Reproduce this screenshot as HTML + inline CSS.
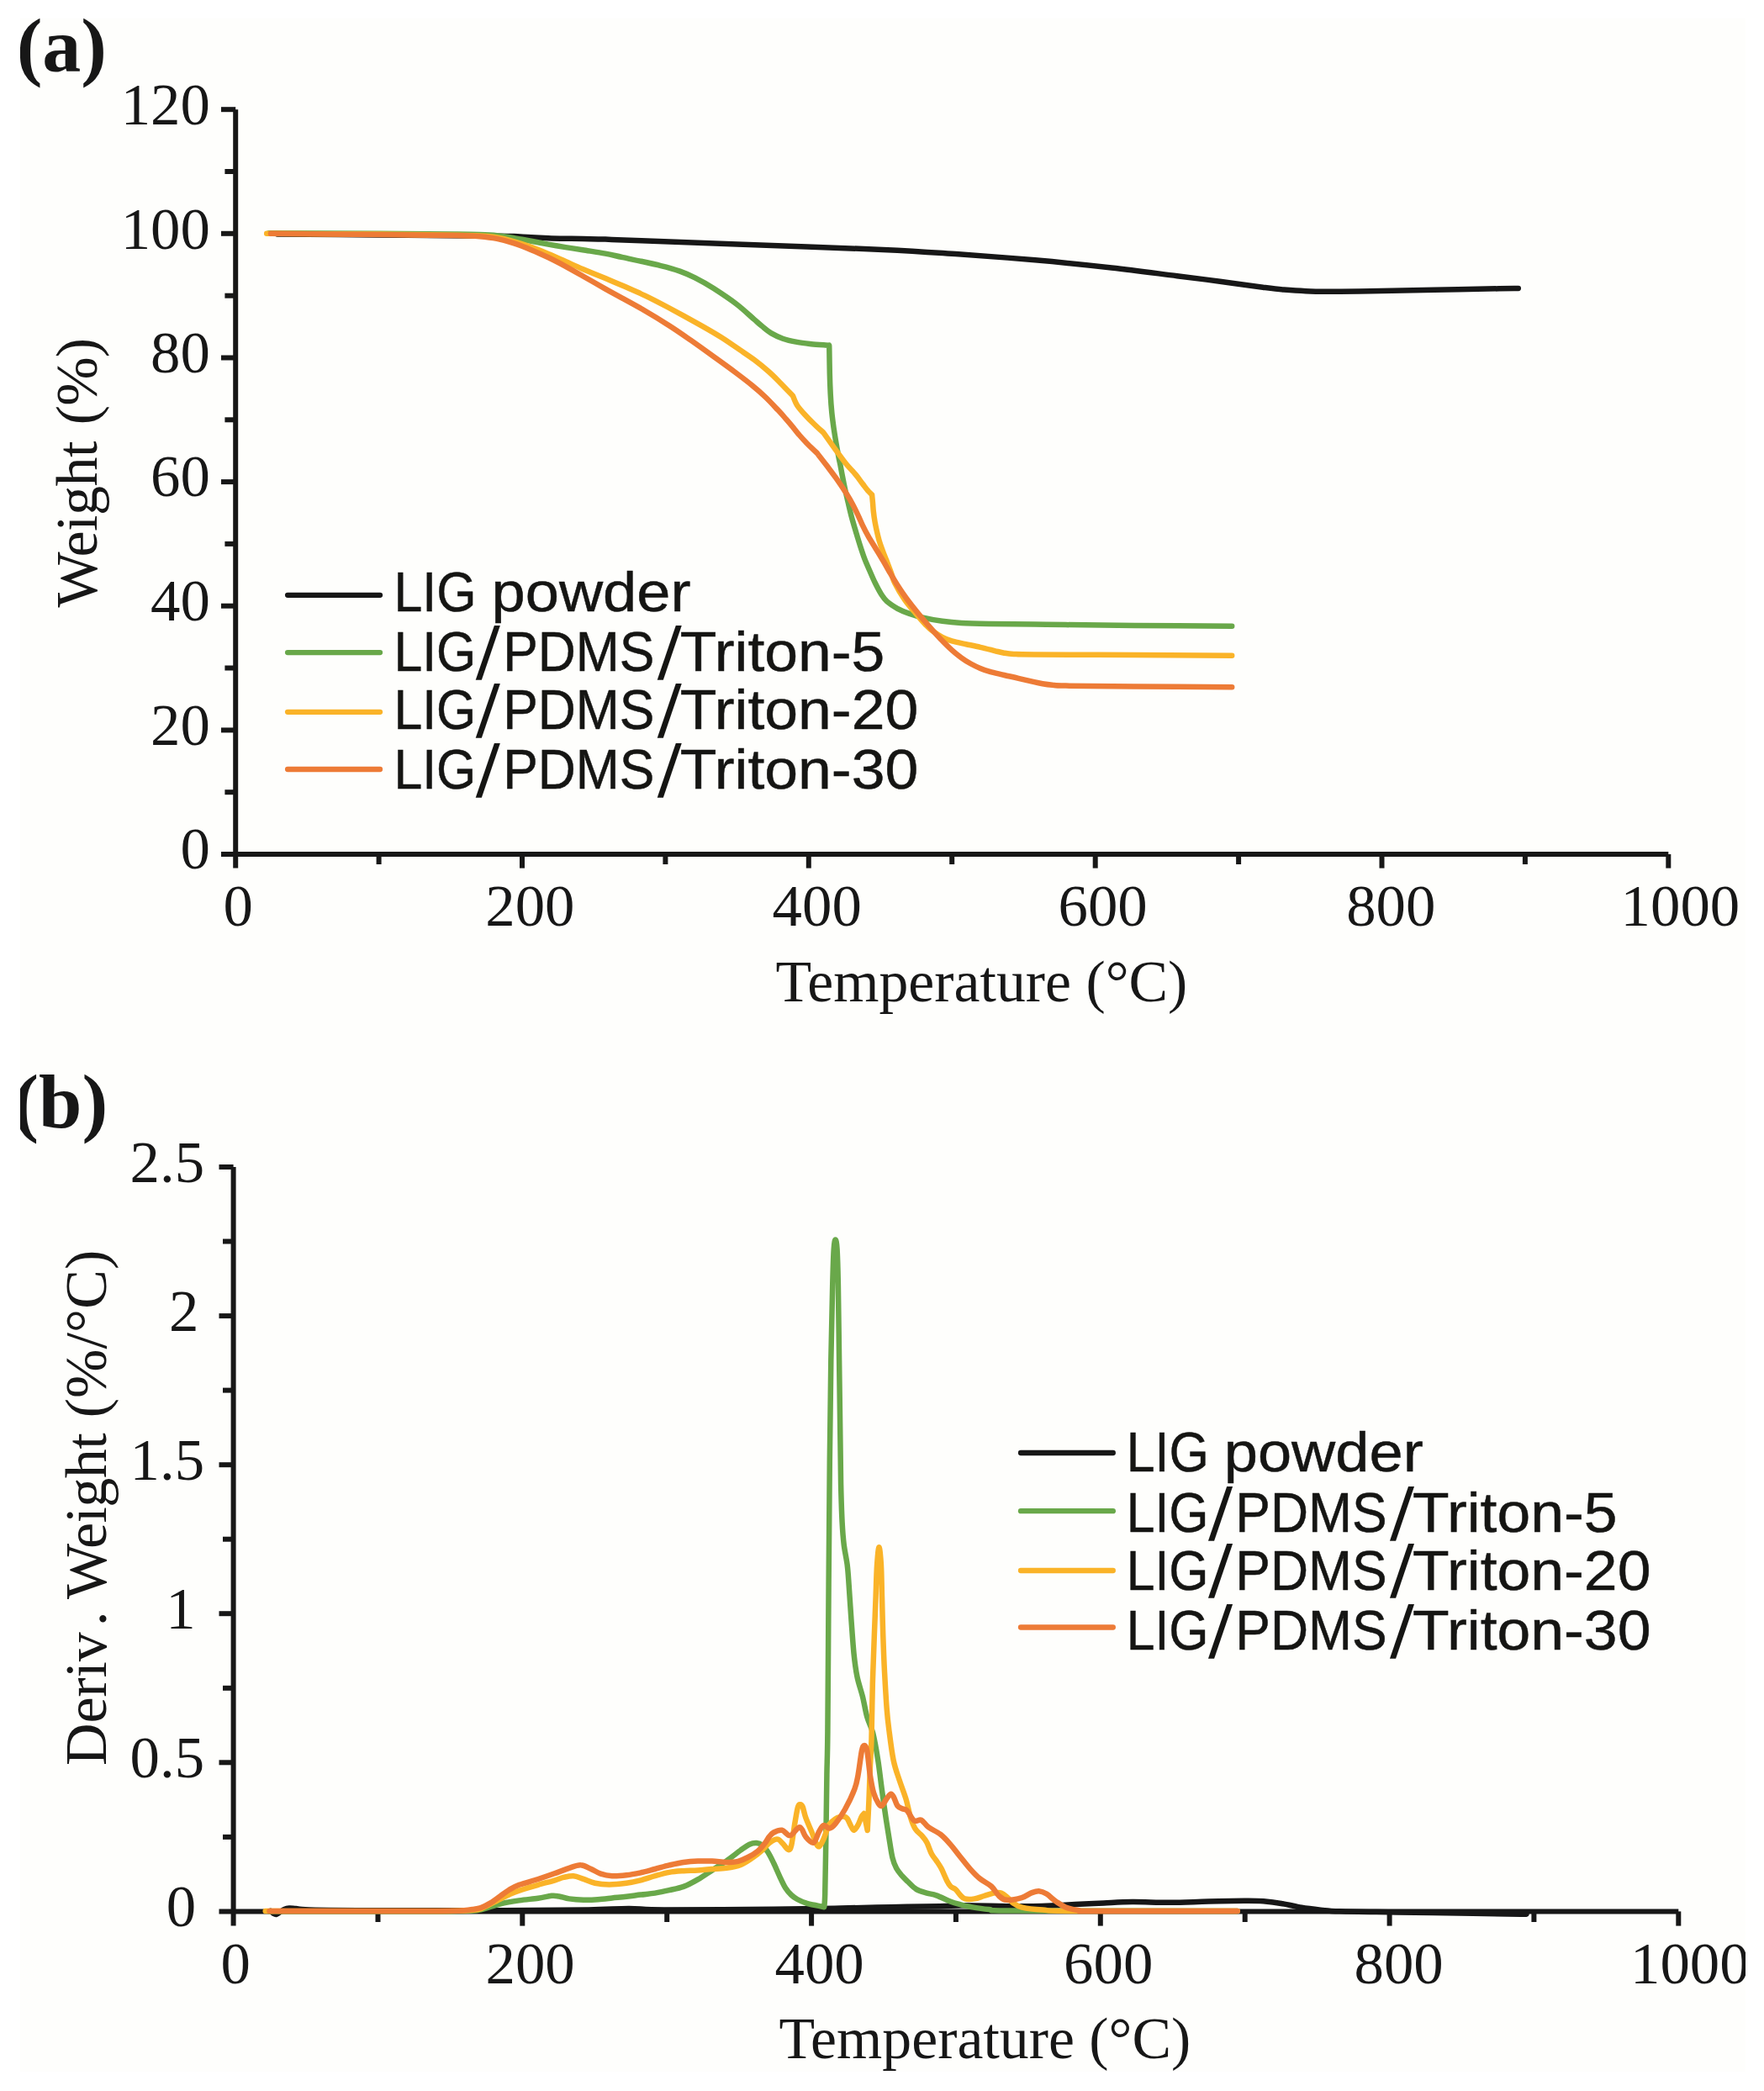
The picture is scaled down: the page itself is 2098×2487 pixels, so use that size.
<!DOCTYPE html>
<html lang="en"><head><meta charset="utf-8"><title>TGA and DTG curves</title>
<style>
html,body{margin:0;padding:0;background:#ffffff;}
body{width:2098px;height:2487px;overflow:hidden;position:relative;}
svg{position:absolute;left:0;top:0;display:block;}
text{white-space:pre;}
.lg{position:absolute;left:0;top:0;width:0;height:0;}
.lg span{position:absolute;left:0;top:0;display:block;white-space:pre;font:67.5px/1 'Liberation Sans',sans-serif;color:#151513;-webkit-text-stroke:0.5px #151513;transform-origin:0 0;}
.lg span.ns{-webkit-text-stroke:0;}
</style></head><body>
<svg width="2098" height="2487" viewBox="0 0 2098 2487">
<defs><clipPath id="page"><rect x="24" y="22" width="2052" height="2442"/></clipPath></defs>
<rect x="0" y="0" width="2098" height="2487" fill="#ffffff"/>
<rect x="24" y="22" width="2052" height="2442" fill="#fefefc"/>
<g clip-path="url(#page)">
<line x1="280.2" y1="130.2" x2="280.2" y2="1032.6" stroke="#171717" stroke-width="6.0"/>
<line x1="263.0" y1="1016.0" x2="1984.3" y2="1016.0" stroke="#171717" stroke-width="6.0"/>
<line x1="267.4" y1="942.2" x2="280.2" y2="942.2" stroke="#171717" stroke-width="6.0"/>
<line x1="263.0" y1="868.4" x2="280.2" y2="868.4" stroke="#171717" stroke-width="6.0"/>
<line x1="267.4" y1="794.5" x2="280.2" y2="794.5" stroke="#171717" stroke-width="6.0"/>
<line x1="263.0" y1="720.7" x2="280.2" y2="720.7" stroke="#171717" stroke-width="6.0"/>
<line x1="267.4" y1="646.9" x2="280.2" y2="646.9" stroke="#171717" stroke-width="6.0"/>
<line x1="263.0" y1="573.1" x2="280.2" y2="573.1" stroke="#171717" stroke-width="6.0"/>
<line x1="267.4" y1="499.3" x2="280.2" y2="499.3" stroke="#171717" stroke-width="6.0"/>
<line x1="263.0" y1="425.5" x2="280.2" y2="425.5" stroke="#171717" stroke-width="6.0"/>
<line x1="267.4" y1="351.7" x2="280.2" y2="351.7" stroke="#171717" stroke-width="6.0"/>
<line x1="263.0" y1="277.8" x2="280.2" y2="277.8" stroke="#171717" stroke-width="6.0"/>
<line x1="267.4" y1="204.0" x2="280.2" y2="204.0" stroke="#171717" stroke-width="6.0"/>
<line x1="263.0" y1="130.2" x2="280.2" y2="130.2" stroke="#171717" stroke-width="6.0"/>
<line x1="450.6" y1="1016.0" x2="450.6" y2="1028.0" stroke="#171717" stroke-width="6.0"/>
<line x1="621.0" y1="1016.0" x2="621.0" y2="1032.6" stroke="#171717" stroke-width="6.0"/>
<line x1="791.4" y1="1016.0" x2="791.4" y2="1028.0" stroke="#171717" stroke-width="6.0"/>
<line x1="961.8" y1="1016.0" x2="961.8" y2="1032.6" stroke="#171717" stroke-width="6.0"/>
<line x1="1132.2" y1="1016.0" x2="1132.2" y2="1028.0" stroke="#171717" stroke-width="6.0"/>
<line x1="1302.7" y1="1016.0" x2="1302.7" y2="1032.6" stroke="#171717" stroke-width="6.0"/>
<line x1="1473.1" y1="1016.0" x2="1473.1" y2="1028.0" stroke="#171717" stroke-width="6.0"/>
<line x1="1643.5" y1="1016.0" x2="1643.5" y2="1032.6" stroke="#171717" stroke-width="6.0"/>
<line x1="1813.9" y1="1016.0" x2="1813.9" y2="1028.0" stroke="#171717" stroke-width="6.0"/>
<line x1="1984.3" y1="1016.0" x2="1984.3" y2="1032.6" stroke="#171717" stroke-width="6.0"/>
<text transform="translate(143.70 148.00) scale(1.0120 1)" font-size="70.0" font-family="'Liberation Serif', serif" fill="#171717" >120</text>
<text transform="translate(143.70 295.70) scale(1.0120 1)" font-size="70.0" font-family="'Liberation Serif', serif" fill="#171717" >100</text>
<text transform="translate(179.12 442.70) scale(1.0120 1)" font-size="70.0" font-family="'Liberation Serif', serif" fill="#171717" >80</text>
<text transform="translate(179.12 590.20) scale(1.0120 1)" font-size="70.0" font-family="'Liberation Serif', serif" fill="#171717" >60</text>
<text transform="translate(179.12 737.70) scale(1.0120 1)" font-size="70.0" font-family="'Liberation Serif', serif" fill="#171717" >40</text>
<text transform="translate(179.12 885.50) scale(1.0120 1)" font-size="70.0" font-family="'Liberation Serif', serif" fill="#171717" >20</text>
<text transform="translate(214.54 1032.80) scale(1.0120 1)" font-size="70.0" font-family="'Liberation Serif', serif" fill="#171717" >0</text>
<text transform="translate(265.59 1100.80) scale(1.0120 1)" font-size="70.0" font-family="'Liberation Serif', serif" fill="#171717" >0</text>
<text transform="translate(577.29 1100.80) scale(1.0120 1)" font-size="70.0" font-family="'Liberation Serif', serif" fill="#171717" >200</text>
<text transform="translate(918.59 1100.80) scale(1.0120 1)" font-size="70.0" font-family="'Liberation Serif', serif" fill="#171717" >400</text>
<text transform="translate(1258.49 1100.80) scale(1.0120 1)" font-size="70.0" font-family="'Liberation Serif', serif" fill="#171717" >600</text>
<text transform="translate(1601.17 1100.80) scale(1.0120 1)" font-size="70.0" font-family="'Liberation Serif', serif" fill="#171717" >800</text>
<text transform="translate(1927.59 1100.80) scale(1.0120 1)" font-size="70.0" font-family="'Liberation Serif', serif" fill="#171717" >1000</text>
<text transform="translate(922.48 1191.30) scale(0.9969 1)" font-size="70.0" font-family="'Liberation Serif', serif" fill="#171717" >Temperature (°C)</text>
<text transform="translate(114.80 722.50) rotate(-90)" font-size="70" font-family="'Liberation Serif', serif" fill="#171717"><tspan x="0.00" letter-spacing="-0.496">Weight</tspan><tspan x="200.61" letter-spacing="-0.811"> (%)</tspan></text>
<text transform="translate(19.69 85.30) scale(1.0059 1)" font-size="91.5" font-family="'Liberation Serif', serif" font-weight="bold" fill="#171717" >(a)</text>
<path d="M330.0 278.5 C350.0 278.7 411.7 279.2 450.0 279.5 C488.3 279.8 536.7 280.3 560.0 280.5 C583.3 280.7 581.4 280.6 590.0 280.7 C598.6 280.8 604.4 280.8 611.4 281.1 C618.4 281.4 625.0 282.0 631.8 282.3 C638.6 282.7 645.4 283.0 652.2 283.2 C659.0 283.5 665.9 283.6 672.7 283.7 C679.5 283.8 685.1 283.9 693.0 284.0 C700.9 284.2 708.3 284.2 720.0 284.6 C731.7 285.0 736.8 285.3 763.0 286.2 C789.2 287.2 829.2 288.6 877.0 290.4 C924.8 292.2 1006.2 294.9 1050.0 296.9 C1093.8 298.9 1109.8 300.3 1140.0 302.3 C1170.2 304.4 1200.7 306.7 1231.0 309.3 C1261.3 312.0 1293.8 315.3 1322.0 318.4 C1350.2 321.6 1378.5 325.5 1400.0 328.2 C1421.5 330.9 1434.0 332.5 1451.0 334.7 C1468.0 337.0 1489.3 340.1 1502.0 341.7 C1514.7 343.3 1518.5 343.8 1527.0 344.6 C1535.5 345.3 1544.3 345.9 1553.0 346.2 C1561.7 346.6 1566.2 346.7 1579.0 346.7 C1591.8 346.8 1608.8 346.6 1630.0 346.3 C1651.2 346.0 1680.5 345.3 1706.0 344.8 C1731.5 344.3 1766.4 343.6 1783.0 343.3 C1799.6 343.0 1802.0 343.1 1805.8 343.0" fill="none" stroke="#171717" stroke-width="6.5" stroke-linecap="round" stroke-linejoin="round"/>
<path d="M320.0 277.3 C341.7 277.4 413.3 277.5 450.0 277.7 C486.7 277.9 520.0 278.2 540.0 278.5 C560.0 278.7 561.5 278.7 570.0 279.0 C578.5 279.3 584.1 279.5 591.0 280.2 C597.9 280.9 604.6 282.0 611.4 283.1 C618.2 284.2 625.0 285.5 631.8 286.7 C638.6 288.0 645.4 289.3 652.2 290.6 C659.0 291.8 665.9 293.0 672.7 294.1 C679.5 295.2 685.1 296.0 693.0 297.2 C700.9 298.5 712.0 300.1 720.0 301.6 C728.0 303.1 729.7 303.7 740.7 306.1 C751.7 308.5 774.7 313.3 786.0 316.1 C797.3 318.8 801.9 320.2 808.7 322.6 C815.5 325.0 819.9 327.0 826.6 330.4 C833.3 333.8 840.6 337.8 848.8 343.0 C857.0 348.3 868.0 355.5 876.0 361.7 C884.0 367.8 892.0 375.6 897.0 379.9 C902.0 384.3 902.7 385.1 906.1 387.8 C909.5 390.5 913.2 393.9 917.4 396.4 C921.5 398.8 925.9 400.9 931.0 402.7 C936.1 404.5 942.3 405.8 948.0 406.9 C953.7 408.0 958.7 408.5 965.0 409.2 C971.3 409.8 982.5 410.5 986.0 410.8  C986.0 411.3 986.2 408.5 986.3 414.0 C986.4 419.5 986.6 434.8 986.8 443.9 C987.0 453.0 987.3 460.6 987.7 468.6 C988.1 476.6 988.7 484.8 989.4 491.7 C990.1 498.5 990.9 504.0 991.7 509.9 C992.6 515.8 993.5 521.6 994.5 527.2 C995.5 532.9 996.7 539.7 997.5 543.9 C998.3 548.1 998.6 549.1 999.3 552.4 C999.9 555.7 1000.5 559.0 1001.4 563.7 C1002.3 568.4 1003.6 574.9 1004.8 580.6 C1006.0 586.3 1007.5 592.4 1008.8 598.1 C1010.1 603.7 1011.2 608.7 1012.7 614.3 C1014.2 620.0 1016.1 626.3 1017.8 632.0 C1019.5 637.7 1021.1 643.2 1022.9 648.7 C1024.7 654.3 1026.5 659.9 1028.6 665.4 C1030.7 670.8 1033.4 676.7 1035.5 681.5 C1037.6 686.4 1039.2 690.1 1041.3 694.3 C1043.4 698.5 1045.8 703.2 1048.1 706.7 C1050.4 710.2 1051.7 712.5 1054.9 715.4 C1058.1 718.2 1063.1 721.4 1067.4 723.8 C1071.8 726.2 1075.9 727.8 1081.0 729.6 C1086.1 731.4 1091.4 733.1 1098.0 734.6 C1104.6 736.2 1113.1 737.7 1120.7 738.7 C1128.3 739.8 1134.0 740.4 1143.4 740.9 C1152.9 741.5 1163.0 741.7 1177.4 742.0 C1191.8 742.3 1215.0 742.4 1230.0 742.6 C1245.0 742.8 1247.5 742.9 1267.5 743.1 C1287.5 743.3 1317.0 743.7 1350.0 743.9 C1383.0 744.2 1446.0 744.7 1465.2 744.8" fill="none" stroke="#69a84a" stroke-width="6.5" stroke-linecap="round" stroke-linejoin="round"/>
<path d="M317.2 277.8 C339.3 277.9 412.9 278.3 450.0 278.6 C487.1 278.9 519.9 279.3 540.0 279.7 C560.1 280.0 562.1 280.0 570.6 280.5 C579.1 280.9 584.2 281.3 591.0 282.5 C597.8 283.6 604.6 285.4 611.4 287.3 C618.2 289.2 625.0 291.5 631.8 293.9 C638.6 296.4 645.4 299.1 652.2 302.0 C659.0 304.8 665.9 308.0 672.7 311.0 C679.5 314.0 685.1 316.7 693.0 320.0 C700.9 323.3 712.2 327.8 720.0 331.0 C727.8 334.3 732.1 336.1 740.0 339.5 C747.9 343.0 758.1 347.3 767.2 351.6 C776.3 356.0 783.4 359.7 794.4 365.5 C805.4 371.4 822.8 380.9 833.4 386.8 C844.0 392.8 850.1 396.3 857.9 401.2 C865.7 406.1 873.5 411.7 880.0 416.2 C886.5 420.6 891.3 423.7 897.0 427.9 C902.7 432.2 908.9 437.2 914.0 441.7 C919.1 446.1 922.8 450.0 927.6 454.9 C932.4 459.7 940.4 468.1 942.9 470.7  C943.8 472.6 945.6 478.3 948.0 482.0 C950.4 485.7 953.7 489.3 957.1 493.0 C960.5 496.8 964.7 501.0 968.4 504.5 C972.1 508.1 977.4 512.8 979.2 514.4  C980.6 516.4 984.5 521.8 987.7 526.3 C990.9 530.8 995.2 536.8 998.5 541.3 C1001.8 545.8 1004.4 549.4 1007.6 553.3 C1010.8 557.1 1014.8 560.9 1017.8 564.6 C1020.8 568.2 1023.3 572.0 1025.8 575.3 C1028.3 578.5 1030.7 581.9 1032.6 584.0 C1034.5 586.2 1036.3 587.7 1037.1 588.4  C1037.2 590.0 1037.7 594.7 1038.0 598.0 C1038.3 601.3 1038.4 604.5 1038.8 608.2 C1039.2 611.9 1039.8 616.3 1040.5 620.2 C1041.2 624.1 1042.0 627.9 1042.8 631.7 C1043.6 635.4 1044.5 639.0 1045.6 642.8 C1046.7 646.6 1048.2 650.6 1049.6 654.5 C1051.0 658.4 1052.4 661.7 1054.1 666.0 C1055.8 670.4 1058.1 676.3 1059.8 680.8 C1061.5 685.3 1061.3 687.5 1064.0 693.0 C1066.7 698.4 1071.8 707.2 1075.9 713.2 C1080.0 719.2 1084.3 724.0 1088.5 728.9 C1092.7 733.9 1097.6 739.6 1101.0 743.2 C1104.4 746.7 1105.4 747.8 1108.7 750.2 C1112.0 752.6 1116.8 755.8 1120.7 757.8 C1124.6 759.8 1127.3 761.0 1132.0 762.4 C1136.7 763.8 1143.3 765.0 1149.0 766.2 C1154.7 767.4 1160.3 768.5 1166.0 769.8 C1171.7 771.1 1178.3 772.9 1183.0 774.1 C1187.7 775.2 1190.6 776.0 1194.4 776.7 C1198.2 777.3 1199.8 777.6 1205.7 777.9 C1211.6 778.2 1206.0 778.3 1230.0 778.5 C1254.0 778.7 1310.8 778.8 1350.0 779.1 C1389.2 779.3 1446.0 779.7 1465.2 779.8" fill="none" stroke="#fab328" stroke-width="6.5" stroke-linecap="round" stroke-linejoin="round"/>
<path d="M322.0 277.8 C343.3 278.0 413.7 278.6 450.0 279.0 C486.3 279.3 519.9 279.7 540.0 280.1 C560.1 280.5 562.1 280.6 570.6 281.2 C579.1 281.9 584.2 282.5 591.0 283.9 C597.8 285.3 604.6 287.2 611.4 289.4 C618.2 291.6 625.0 294.3 631.8 297.2 C638.6 300.0 645.4 303.1 652.2 306.3 C659.0 309.6 665.9 313.2 672.7 316.8 C679.5 320.5 685.1 323.7 693.0 328.2 C700.9 332.7 712.2 339.2 720.0 343.6 C727.8 348.0 732.1 350.2 740.0 354.6 C747.9 358.9 757.8 364.2 767.2 369.7 C776.6 375.1 787.1 381.6 796.2 387.5 C805.3 393.3 812.8 398.6 821.6 404.7 C830.4 410.9 839.7 417.6 848.8 424.2 C857.9 430.7 868.4 438.3 876.0 444.0 C883.6 449.7 888.9 453.7 894.7 458.5 C900.5 463.2 905.5 467.6 910.6 472.5 C915.7 477.4 921.4 483.6 925.4 487.8 C929.4 492.0 931.4 494.4 934.4 497.9 C937.4 501.3 940.9 505.4 943.5 508.6 C946.1 511.8 947.6 514.0 950.3 517.0 C952.9 520.1 956.0 523.4 959.4 526.9 C962.8 530.4 968.5 535.7 970.7 537.9 C972.9 540.1 970.8 537.7 972.8 540.2 C974.8 542.8 979.2 548.3 982.7 553.0 C986.2 557.7 990.2 562.9 994.0 568.2 C997.8 573.6 1002.0 579.7 1005.4 585.1 C1008.8 590.5 1011.8 595.5 1014.4 600.4 C1017.0 605.2 1019.3 610.2 1021.2 614.3 C1023.1 618.3 1023.9 620.7 1025.8 624.6 C1027.7 628.5 1030.0 633.1 1032.6 637.7 C1035.2 642.4 1038.6 647.5 1041.6 652.5 C1044.6 657.4 1048.0 663.0 1050.7 667.5 C1053.4 672.0 1054.7 674.7 1057.5 679.5 C1060.3 684.3 1063.9 690.6 1067.4 696.1 C1071.0 701.7 1074.8 707.4 1078.8 712.8 C1082.8 718.2 1087.0 723.5 1091.2 728.6 C1095.4 733.7 1099.2 738.1 1103.7 743.3 C1108.2 748.5 1113.7 754.7 1118.4 759.7 C1123.1 764.6 1127.8 769.3 1132.0 773.1 C1136.2 776.9 1139.6 779.6 1143.4 782.3 C1147.2 785.1 1150.9 787.4 1154.7 789.5 C1158.5 791.6 1162.2 793.4 1166.0 794.9 C1169.8 796.5 1172.7 797.5 1177.4 798.9 C1182.1 800.2 1188.7 801.6 1194.4 803.0 C1200.1 804.3 1205.5 805.4 1211.4 806.8 C1217.3 808.2 1225.2 810.1 1230.0 811.2 C1234.8 812.3 1236.4 812.6 1240.0 813.2 C1243.6 813.8 1247.0 814.3 1251.6 814.7 C1256.2 815.1 1251.1 815.3 1267.5 815.6 C1283.9 815.9 1317.0 816.2 1350.0 816.5 C1383.0 816.8 1446.0 817.1 1465.2 817.2" fill="none" stroke="#ed7b36" stroke-width="6.5" stroke-linecap="round" stroke-linejoin="round"/>
<line x1="342.1" y1="707.8" x2="452.0" y2="707.8" stroke="#171717" stroke-width="6.3" stroke-linecap="round"/>
<line x1="342.1" y1="776.1" x2="452.0" y2="776.1" stroke="#69a84a" stroke-width="6.3" stroke-linecap="round"/>
<line x1="342.1" y1="846.8" x2="452.0" y2="846.8" stroke="#fab328" stroke-width="6.3" stroke-linecap="round"/>
<line x1="342.1" y1="915.0" x2="452.0" y2="915.0" stroke="#ed7b36" stroke-width="6.3" stroke-linecap="round"/>
<line x1="277.6" y1="1388.0" x2="277.6" y2="2290.6" stroke="#171717" stroke-width="6.0"/>
<line x1="260.5" y1="2273.4" x2="1996.3" y2="2273.4" stroke="#171717" stroke-width="6.0"/>
<line x1="265.0" y1="2184.9" x2="277.6" y2="2184.9" stroke="#171717" stroke-width="6.0"/>
<line x1="260.5" y1="2096.3" x2="277.6" y2="2096.3" stroke="#171717" stroke-width="6.0"/>
<line x1="265.0" y1="2007.8" x2="277.6" y2="2007.8" stroke="#171717" stroke-width="6.0"/>
<line x1="260.5" y1="1919.2" x2="277.6" y2="1919.2" stroke="#171717" stroke-width="6.0"/>
<line x1="265.0" y1="1830.7" x2="277.6" y2="1830.7" stroke="#171717" stroke-width="6.0"/>
<line x1="260.5" y1="1742.2" x2="277.6" y2="1742.2" stroke="#171717" stroke-width="6.0"/>
<line x1="265.0" y1="1653.6" x2="277.6" y2="1653.6" stroke="#171717" stroke-width="6.0"/>
<line x1="260.5" y1="1565.1" x2="277.6" y2="1565.1" stroke="#171717" stroke-width="6.0"/>
<line x1="265.0" y1="1476.5" x2="277.6" y2="1476.5" stroke="#171717" stroke-width="6.0"/>
<line x1="260.5" y1="1388.0" x2="277.6" y2="1388.0" stroke="#171717" stroke-width="6.0"/>
<line x1="449.5" y1="2273.4" x2="449.5" y2="2286.0" stroke="#171717" stroke-width="6.0"/>
<line x1="621.3" y1="2273.4" x2="621.3" y2="2290.6" stroke="#171717" stroke-width="6.0"/>
<line x1="793.2" y1="2273.4" x2="793.2" y2="2286.0" stroke="#171717" stroke-width="6.0"/>
<line x1="965.1" y1="2273.4" x2="965.1" y2="2290.6" stroke="#171717" stroke-width="6.0"/>
<line x1="1136.9" y1="2273.4" x2="1136.9" y2="2286.0" stroke="#171717" stroke-width="6.0"/>
<line x1="1308.8" y1="2273.4" x2="1308.8" y2="2290.6" stroke="#171717" stroke-width="6.0"/>
<line x1="1480.7" y1="2273.4" x2="1480.7" y2="2286.0" stroke="#171717" stroke-width="6.0"/>
<line x1="1652.6" y1="2273.4" x2="1652.6" y2="2290.6" stroke="#171717" stroke-width="6.0"/>
<line x1="1824.4" y1="2273.4" x2="1824.4" y2="2286.0" stroke="#171717" stroke-width="6.0"/>
<line x1="1996.3" y1="2273.4" x2="1996.3" y2="2290.6" stroke="#171717" stroke-width="6.0"/>
<text transform="translate(154.58 1405.80) scale(1.0120 1)" font-size="70.0" font-family="'Liberation Serif', serif" fill="#171717" >2.5</text>
<text transform="translate(200.88 1582.90) scale(1.0120 1)" font-size="70.0" font-family="'Liberation Serif', serif" fill="#171717" >2</text>
<text transform="translate(154.58 1760.00) scale(1.0120 1)" font-size="70.0" font-family="'Liberation Serif', serif" fill="#171717" >1.5</text>
<text transform="translate(197.33 1937.10) scale(1.0120 1)" font-size="70.0" font-family="'Liberation Serif', serif" fill="#171717" >1</text>
<text transform="translate(154.58 2114.30) scale(1.0120 1)" font-size="70.0" font-family="'Liberation Serif', serif" fill="#171717" >0.5</text>
<text transform="translate(197.84 2290.90) scale(1.0120 1)" font-size="70.0" font-family="'Liberation Serif', serif" fill="#171717" >0</text>
<text transform="translate(262.59 2358.80) scale(1.0120 1)" font-size="70.0" font-family="'Liberation Serif', serif" fill="#171717" >0</text>
<text transform="translate(577.49 2358.80) scale(1.0120 1)" font-size="70.0" font-family="'Liberation Serif', serif" fill="#171717" >200</text>
<text transform="translate(921.49 2358.80) scale(1.0120 1)" font-size="70.0" font-family="'Liberation Serif', serif" fill="#171717" >400</text>
<text transform="translate(1265.09 2358.80) scale(1.0120 1)" font-size="70.0" font-family="'Liberation Serif', serif" fill="#171717" >600</text>
<text transform="translate(1610.47 2358.80) scale(1.0120 1)" font-size="70.0" font-family="'Liberation Serif', serif" fill="#171717" >800</text>
<text transform="translate(1938.99 2358.80) scale(1.0120 1)" font-size="70.0" font-family="'Liberation Serif', serif" fill="#171717" >1000</text>
<text transform="translate(926.38 2448.20) scale(0.9969 1)" font-size="70.0" font-family="'Liberation Serif', serif" fill="#171717" >Temperature (°C)</text>
<text transform="translate(126.30 2098.00) rotate(-90)" font-size="70" font-family="'Liberation Serif', serif" fill="#171717"><tspan x="-2.00" letter-spacing="-0.170">Deriv</tspan><tspan x="164.00" letter-spacing="0.000">.</tspan><tspan x="180.36" letter-spacing="-0.556"> Weight</tspan><tspan x="394.09" letter-spacing="0.110"> (%/°C)</tspan></text>
<text transform="translate(15.27 1341.00) scale(1.0107 1)" font-size="91.5" font-family="'Liberation Serif', serif" font-weight="bold" fill="#171717" >(b)</text>
<path d="M322.0 2273.0 C322.6 2273.5 324.4 2275.3 325.5 2276.0 C326.6 2276.7 327.3 2277.2 328.5 2277.0 C329.7 2276.8 330.9 2275.5 332.5 2274.5 C334.1 2273.5 336.1 2271.8 338.0 2271.0 C339.9 2270.2 341.7 2269.7 344.0 2269.5 C346.3 2269.3 348.0 2269.7 352.0 2270.0 C356.0 2270.3 351.7 2271.1 368.0 2271.5 C384.3 2271.9 411.3 2272.2 450.0 2272.3 C488.7 2272.4 558.3 2272.4 600.0 2272.3 C641.7 2272.2 675.3 2271.9 700.0 2271.5 C724.7 2271.1 733.0 2270.0 748.0 2270.0 C763.0 2270.0 761.3 2271.4 790.0 2271.5 C818.7 2271.6 885.0 2271.0 920.0 2270.7 C955.0 2270.4 976.7 2269.9 1000.0 2269.5 C1023.3 2269.1 1040.3 2268.6 1060.0 2268.2 C1079.7 2267.8 1103.5 2267.5 1118.0 2267.2 C1132.5 2266.9 1131.5 2266.2 1147.0 2266.2 C1162.5 2266.2 1192.5 2267.3 1210.7 2267.3 C1228.9 2267.3 1244.7 2266.6 1256.0 2266.2 C1267.3 2265.8 1269.2 2265.5 1278.7 2265.0 C1288.2 2264.5 1301.4 2263.9 1312.7 2263.4 C1324.0 2262.9 1333.6 2262.2 1346.8 2262.1 C1360.0 2262.0 1376.9 2262.9 1392.0 2262.8 C1407.1 2262.7 1422.8 2261.9 1437.5 2261.6 C1452.2 2261.3 1469.1 2260.9 1480.0 2260.8 C1490.9 2260.8 1495.1 2260.7 1502.7 2261.3 C1510.3 2261.9 1517.9 2262.9 1525.4 2264.2 C1533.0 2265.4 1540.5 2267.6 1548.0 2268.8 C1555.5 2270.1 1563.1 2270.9 1570.7 2271.7 C1578.3 2272.4 1578.3 2272.9 1593.4 2273.3 C1608.5 2273.8 1635.0 2274.0 1661.4 2274.4 C1687.8 2274.8 1727.4 2275.4 1752.0 2275.8 C1776.6 2276.2 1798.3 2276.6 1808.8 2276.7 C1819.3 2276.8 1814.0 2276.5 1815.0 2276.5" fill="none" stroke="#171717" stroke-width="6.5" stroke-linecap="round" stroke-linejoin="round"/>
<path d="M320.0 2273.2 C341.7 2273.2 415.0 2273.2 450.0 2273.2 C485.0 2273.2 512.3 2273.3 530.0 2273.2 C547.7 2273.1 549.0 2273.1 556.0 2272.8 C563.0 2272.5 565.5 2272.7 572.0 2271.3 C578.5 2269.9 587.2 2266.3 594.8 2264.5 C602.4 2262.7 610.0 2261.5 617.5 2260.4 C625.0 2259.3 633.6 2258.6 640.0 2257.7 C646.4 2256.8 651.8 2255.2 656.0 2254.8 C660.2 2254.4 661.5 2254.9 665.0 2255.5 C668.5 2256.1 672.2 2257.7 677.0 2258.4 C681.8 2259.1 688.3 2259.6 694.0 2259.7 C699.7 2259.8 705.3 2259.6 711.0 2259.2 C716.7 2258.8 722.3 2258.1 728.0 2257.5 C733.7 2256.9 739.3 2256.5 745.0 2255.8 C750.7 2255.2 756.3 2254.3 762.0 2253.6 C767.7 2252.9 773.3 2252.5 779.0 2251.6 C784.7 2250.7 790.3 2249.5 796.0 2248.2 C801.7 2246.9 807.3 2246.0 813.0 2243.9 C818.7 2241.8 824.3 2238.7 830.0 2235.4 C835.7 2232.2 841.3 2228.1 847.0 2224.4 C852.7 2220.7 858.3 2217.3 864.0 2213.3 C869.7 2209.3 876.5 2203.8 881.0 2200.5 C885.5 2197.2 888.2 2195.1 891.3 2193.7 C894.4 2192.3 897.2 2191.8 899.8 2192.0 C902.3 2192.2 904.3 2192.8 906.6 2194.6 C908.9 2196.4 911.1 2199.5 913.4 2203.1 C915.7 2206.7 917.9 2211.3 920.2 2216.0 C922.5 2220.7 924.8 2226.4 927.1 2231.3 C929.4 2236.2 931.8 2241.7 934.2 2245.5 C936.6 2249.3 938.9 2251.8 941.3 2254.0 C943.6 2256.2 945.2 2257.3 948.3 2259.0 C951.4 2260.7 956.2 2262.7 959.7 2263.9 C963.2 2265.1 966.2 2265.3 969.6 2266.0 C973.0 2266.7 978.4 2267.8 980.2 2268.2  C980.4 2265.6 980.8 2267.0 981.2 2252.6 C981.6 2238.2 982.0 2205.3 982.4 2181.7 C982.8 2158.1 983.1 2131.2 983.4 2110.9 C983.7 2090.6 984.0 2097.3 984.4 2059.6 C984.8 2021.8 985.2 1938.3 985.6 1884.4 C986.0 1830.5 986.3 1780.7 986.8 1736.3 C987.2 1691.9 987.7 1652.4 988.3 1617.8 C988.9 1583.2 989.6 1550.9 990.2 1528.9 C990.8 1506.9 991.1 1495.1 991.7 1486.0 C992.3 1476.9 993.0 1474.4 993.6 1474.4 C994.2 1474.4 995.1 1476.9 995.6 1486.0 C996.1 1495.1 996.5 1506.9 996.9 1528.9 C997.3 1550.9 997.7 1588.2 998.1 1617.8 C998.5 1647.4 999.0 1682.0 999.3 1706.7 C999.6 1731.4 999.7 1748.6 1000.1 1765.9 C1000.5 1783.2 1001.0 1798.6 1001.6 1810.4 C1002.2 1822.2 1002.7 1828.6 1003.7 1837.0 C1004.7 1845.4 1006.6 1852.8 1007.6 1860.7 C1008.6 1868.6 1008.8 1873.0 1009.6 1884.4 C1010.4 1895.8 1011.6 1915.1 1012.6 1928.9 C1013.6 1942.7 1014.5 1956.6 1015.6 1967.4 C1016.7 1978.2 1017.7 1985.6 1019.4 1994.0 C1021.1 2002.4 1023.9 2009.8 1025.9 2017.8 C1027.9 2025.8 1029.2 2034.8 1031.2 2042.0 C1033.2 2049.2 1036.0 2052.6 1038.2 2061.3 C1040.4 2070.0 1042.5 2082.5 1044.3 2094.0 C1046.1 2105.5 1047.5 2119.0 1049.1 2130.3 C1050.6 2141.6 1052.1 2152.0 1053.6 2162.0 C1055.1 2172.0 1056.8 2182.5 1058.1 2190.4 C1059.4 2198.3 1060.2 2204.4 1061.5 2209.7 C1062.8 2215.0 1064.2 2218.5 1066.1 2222.1 C1068.0 2225.7 1070.6 2228.5 1072.9 2231.2 C1075.2 2233.8 1076.9 2235.3 1079.7 2238.0 C1082.5 2240.7 1086.1 2244.8 1089.9 2247.1 C1093.7 2249.4 1098.4 2250.4 1102.4 2251.6 C1106.4 2252.8 1109.0 2252.7 1113.7 2254.4 C1118.4 2256.1 1126.0 2260.0 1130.7 2261.8 C1135.4 2263.6 1138.2 2264.2 1142.0 2265.2 C1145.8 2266.2 1147.7 2266.8 1153.4 2267.8 C1159.1 2268.8 1166.5 2270.2 1176.0 2271.0 C1185.5 2271.8 1161.4 2272.3 1210.7 2272.6 C1260.0 2272.9 1428.2 2272.9 1471.7 2273.0" fill="none" stroke="#69a84a" stroke-width="6.5" stroke-linecap="round" stroke-linejoin="round"/>
<path d="M315.7 2273.0 C338.1 2273.0 415.9 2273.0 450.0 2273.0 C484.1 2273.0 504.2 2273.0 520.0 2273.0 C535.8 2273.0 538.3 2273.0 545.0 2272.8 C551.7 2272.6 555.5 2272.4 560.0 2272.0 C564.5 2271.6 566.2 2272.4 572.0 2270.2 C577.8 2268.0 589.1 2261.6 594.8 2258.8 C600.5 2256.0 602.2 2254.9 606.0 2253.2 C609.8 2251.5 611.8 2250.5 617.5 2248.6 C623.2 2246.7 632.9 2243.9 640.0 2241.8 C647.1 2239.8 655.0 2237.8 660.0 2236.3 C665.0 2234.8 666.5 2233.8 670.2 2232.9 C673.9 2232.1 678.0 2230.9 682.0 2231.2 C686.0 2231.5 689.7 2233.5 694.0 2234.9 C698.3 2236.3 702.5 2238.6 707.6 2239.7 C712.7 2240.8 718.4 2241.4 724.6 2241.4 C730.8 2241.4 738.8 2240.5 745.0 2239.7 C751.2 2238.8 756.3 2237.7 762.0 2236.3 C767.7 2234.9 773.3 2232.8 779.0 2231.2 C784.7 2229.6 790.3 2227.9 796.0 2226.9 C801.7 2225.9 807.3 2225.6 813.0 2225.2 C818.7 2224.8 824.3 2224.8 830.0 2224.4 C835.7 2224.0 841.3 2223.4 847.0 2223.0 C852.7 2222.6 858.3 2222.7 864.0 2221.8 C869.7 2221.0 875.9 2219.9 881.0 2217.9 C886.1 2215.9 890.4 2212.8 894.7 2209.9 C899.0 2207.0 903.2 2203.5 906.6 2200.5 C910.0 2197.5 912.4 2194.1 915.0 2192.0 C917.6 2189.9 920.1 2188.5 922.0 2187.8 C923.9 2187.1 924.7 2187.1 926.2 2188.0 C927.8 2188.9 929.4 2191.1 931.3 2193.1 C933.2 2195.1 936.0 2199.9 937.7 2200.1 C939.4 2200.3 940.0 2199.9 941.3 2194.5 C942.6 2189.1 944.2 2175.2 945.5 2167.6 C946.8 2160.0 947.9 2152.6 949.0 2149.1 C950.1 2145.6 950.9 2146.3 951.9 2146.3 C952.9 2146.3 953.6 2146.5 954.7 2149.1 C955.8 2151.7 956.5 2156.9 958.3 2161.9 C960.1 2166.9 963.3 2173.7 965.4 2178.9 C967.5 2184.1 969.5 2190.3 971.0 2193.1 C972.5 2195.9 973.2 2196.8 974.6 2195.9 C976.0 2195.0 977.7 2191.4 979.5 2187.4 C981.3 2183.4 983.6 2175.2 985.2 2171.8 C986.9 2168.4 987.6 2168.4 989.4 2166.8 C991.2 2165.2 993.6 2163.1 996.0 2162.0 C998.4 2160.9 1001.6 2160.3 1003.6 2160.5 C1005.6 2160.7 1006.5 2161.4 1007.9 2163.3 C1009.3 2165.2 1010.8 2169.6 1012.1 2171.8 C1013.4 2174.1 1014.3 2177.0 1015.7 2176.8 C1017.1 2176.6 1019.1 2173.1 1020.6 2170.4 C1022.1 2167.7 1023.6 2162.7 1024.8 2160.5 C1026.0 2158.3 1027.1 2157.6 1027.6 2157.0  L1031.7 2177.0  C1032.0 2170.8 1033.0 2152.8 1033.5 2140.0 C1034.0 2127.2 1034.5 2111.9 1035.0 2100.0 C1035.5 2088.1 1036.0 2084.5 1036.5 2068.3 C1037.0 2052.1 1037.2 2023.8 1037.8 2003.0 C1038.4 1982.2 1039.3 1961.0 1039.9 1943.7 C1040.5 1926.4 1041.1 1913.1 1041.6 1899.3 C1042.1 1885.5 1042.4 1870.5 1043.1 1860.7 C1043.8 1850.9 1044.7 1840.3 1045.5 1840.3 C1046.3 1840.3 1047.3 1850.9 1047.9 1860.7 C1048.5 1870.5 1048.6 1885.5 1049.0 1899.3 C1049.4 1913.1 1049.7 1928.9 1050.2 1943.7 C1050.7 1958.5 1051.2 1973.3 1052.0 1988.1 C1052.8 2002.9 1053.8 2020.7 1054.7 2032.6 C1055.6 2044.5 1056.3 2049.4 1057.6 2059.6 C1058.9 2069.8 1060.7 2084.5 1062.7 2094.0 C1064.7 2103.5 1067.0 2109.1 1069.5 2116.7 C1072.0 2124.3 1075.1 2131.8 1077.4 2139.4 C1079.7 2147.0 1081.2 2156.0 1083.1 2162.0 C1085.0 2168.0 1086.5 2172.0 1088.8 2175.6 C1091.1 2179.2 1094.4 2180.9 1096.7 2183.6 C1099.0 2186.2 1100.5 2187.9 1102.4 2191.5 C1104.3 2195.1 1106.1 2201.5 1108.0 2205.1 C1109.9 2208.7 1111.8 2210.3 1113.7 2213.1 C1115.6 2215.9 1117.3 2218.1 1119.4 2222.1 C1121.5 2226.1 1124.3 2233.3 1126.2 2236.9 C1128.1 2240.5 1129.0 2242.0 1130.7 2243.7 C1132.4 2245.4 1134.5 2245.4 1136.4 2247.1 C1138.3 2248.8 1140.1 2252.0 1142.0 2253.9 C1143.9 2255.8 1144.9 2257.7 1147.7 2258.4 C1150.5 2259.2 1155.2 2259.0 1159.0 2258.4 C1162.8 2257.8 1166.6 2256.1 1170.4 2255.0 C1174.2 2253.9 1178.3 2252.2 1181.7 2251.6 C1185.1 2251.0 1188.0 2250.6 1190.8 2251.6 C1193.6 2252.6 1196.4 2255.4 1198.7 2257.3 C1201.0 2259.2 1201.6 2261.1 1204.4 2263.0 C1207.2 2264.9 1209.8 2267.2 1215.7 2268.6 C1221.6 2270.0 1229.5 2270.9 1240.0 2271.6 C1250.5 2272.3 1240.1 2272.8 1278.7 2273.0 C1317.3 2273.2 1439.5 2273.0 1471.7 2273.0" fill="none" stroke="#fab328" stroke-width="6.5" stroke-linecap="round" stroke-linejoin="round"/>
<path d="M320.5 2273.0 C342.1 2273.0 416.8 2273.0 450.0 2273.0 C483.2 2273.0 505.0 2273.0 520.0 2273.0 C535.0 2273.0 534.7 2272.9 540.0 2272.8 C545.3 2272.7 548.3 2272.5 552.0 2272.2 C555.7 2271.9 558.7 2271.5 562.0 2271.0 C565.3 2270.5 568.4 2270.3 572.0 2269.0 C575.6 2267.7 579.6 2265.7 583.4 2263.4 C587.2 2261.1 591.0 2258.1 594.8 2255.4 C598.6 2252.8 602.2 2249.8 606.0 2247.5 C609.8 2245.2 611.8 2243.9 617.5 2241.8 C623.2 2239.7 632.5 2237.4 640.0 2235.0 C647.5 2232.6 656.6 2229.3 662.8 2227.1 C669.0 2224.9 672.4 2223.3 677.0 2221.8 C681.6 2220.3 686.4 2218.0 690.6 2218.2 C694.9 2218.3 698.5 2221.0 702.5 2222.7 C706.5 2224.4 710.1 2227.2 714.4 2228.6 C718.6 2230.0 722.9 2230.9 728.0 2231.2 C733.1 2231.5 739.3 2230.9 745.0 2230.3 C750.7 2229.7 756.3 2228.6 762.0 2227.4 C767.7 2226.2 773.3 2224.5 779.0 2223.0 C784.7 2221.5 790.3 2219.7 796.0 2218.4 C801.7 2217.1 807.3 2215.8 813.0 2215.0 C818.7 2214.2 824.3 2213.8 830.0 2213.6 C835.7 2213.4 841.3 2213.4 847.0 2213.6 C852.7 2213.8 858.9 2215.0 864.0 2215.0 C869.1 2215.0 873.4 2214.8 877.7 2213.8 C882.0 2212.8 885.6 2211.1 889.6 2209.0 C893.6 2206.9 898.1 2204.2 901.5 2201.4 C904.9 2198.6 907.8 2194.8 910.0 2192.0 C912.2 2189.2 913.3 2186.5 915.0 2184.4 C916.7 2182.3 917.7 2180.8 920.2 2179.5 C922.7 2178.2 926.7 2176.2 930.0 2176.8 C933.3 2177.4 936.3 2183.7 939.8 2183.1 C943.3 2182.5 948.1 2172.9 951.2 2173.2 C954.3 2173.4 955.6 2181.5 958.3 2184.6 C961.0 2187.7 964.9 2192.5 967.5 2191.6 C970.1 2190.7 971.9 2182.3 973.9 2178.9 C975.9 2175.5 977.4 2171.8 979.5 2171.1 C981.6 2170.4 984.2 2174.9 986.6 2174.6 C989.0 2174.2 990.6 2172.8 993.7 2169.0 C996.8 2165.2 1001.2 2158.8 1005.0 2152.0 C1008.8 2145.2 1013.8 2134.8 1016.4 2127.9 C1019.0 2121.1 1019.2 2118.5 1020.6 2110.9 C1022.0 2103.3 1023.7 2088.3 1024.9 2082.5 C1026.1 2076.7 1026.9 2076.1 1028.0 2076.1 C1029.1 2076.1 1030.2 2076.7 1031.3 2082.5 C1032.4 2088.3 1033.5 2102.6 1034.8 2110.9 C1036.1 2119.2 1037.3 2126.4 1039.0 2132.1 C1040.7 2137.8 1043.0 2142.3 1044.7 2144.9 C1046.4 2147.5 1047.3 2148.6 1049.0 2147.7 C1050.7 2146.8 1052.8 2141.5 1054.6 2139.2 C1056.4 2136.9 1058.2 2134.0 1059.6 2133.8 C1061.0 2133.6 1061.8 2135.5 1063.1 2137.8 C1064.4 2140.1 1065.7 2145.4 1067.4 2147.7 C1069.1 2149.9 1071.2 2150.4 1073.1 2151.3 C1075.0 2152.2 1076.3 2151.1 1078.7 2153.4 C1081.1 2155.8 1084.4 2163.5 1087.2 2165.4 C1090.0 2167.3 1092.9 2163.4 1095.7 2164.7 C1098.5 2166.0 1100.4 2170.4 1104.2 2173.2 C1108.0 2176.0 1114.1 2178.4 1118.4 2181.7 C1122.7 2185.0 1126.0 2188.8 1129.8 2193.1 C1133.6 2197.3 1137.1 2202.2 1141.1 2207.2 C1145.1 2212.1 1149.8 2218.3 1153.8 2222.8 C1157.8 2227.3 1161.2 2231.0 1165.4 2234.4 C1169.6 2237.8 1175.2 2240.1 1179.0 2243.5 C1182.8 2246.9 1185.0 2252.1 1188.0 2254.8 C1191.0 2257.5 1192.5 2259.4 1197.0 2259.8 C1201.5 2260.2 1210.3 2258.5 1215.2 2257.1 C1220.1 2255.7 1223.2 2252.7 1226.6 2251.4 C1230.0 2250.1 1232.6 2249.0 1235.6 2249.2 C1238.6 2249.4 1241.3 2250.5 1244.7 2252.6 C1248.1 2254.7 1252.2 2259.0 1256.0 2261.6 C1259.8 2264.2 1262.9 2266.6 1267.4 2268.4 C1272.0 2270.2 1277.6 2271.5 1283.3 2272.3 C1289.0 2273.1 1270.0 2272.9 1301.4 2273.0 C1332.8 2273.1 1443.3 2273.0 1471.7 2273.0" fill="none" stroke="#ed7b36" stroke-width="6.5" stroke-linecap="round" stroke-linejoin="round"/>
<line x1="1214.0" y1="1728.0" x2="1323.8" y2="1728.0" stroke="#171717" stroke-width="6.3" stroke-linecap="round"/>
<line x1="1214.0" y1="1797.2" x2="1323.8" y2="1797.2" stroke="#69a84a" stroke-width="6.3" stroke-linecap="round"/>
<line x1="1214.0" y1="1868.0" x2="1323.8" y2="1868.0" stroke="#fab328" stroke-width="6.3" stroke-linecap="round"/>
<line x1="1214.0" y1="1935.5" x2="1323.8" y2="1935.5" stroke="#ed7b36" stroke-width="6.3" stroke-linecap="round"/>
</g>
</svg>
<div class="lg"><span style="transform:matrix(0.9011,0,0.0000,1.0000,468.48,669.56)">LIG</span><span style="transform:matrix(1.0708,0,0.0000,1.0000,564.44,669.56)"> powder</span></div>
<div class="lg"><span style="transform:matrix(0.8991,0,0.0000,1.0000,468.49,740.76)">LIG</span><span class="ns" style="transform:matrix(1.3381,0,-0.0816,1.3086,570.52,733.07)">/</span><span style="transform:matrix(0.9246,0,0.0000,1.0000,598.15,740.76)">PDMS</span><span class="ns" style="transform:matrix(1.3381,0,-0.0796,1.3086,786.29,733.07)">/</span><span style="transform:matrix(1.0590,0,0.0000,1.0000,808.69,740.76)">Triton-5</span></div>
<div class="lg"><span style="transform:matrix(0.8991,0,0.0000,1.0000,468.49,810.46)">LIG</span><span class="ns" style="transform:matrix(1.3381,0,-0.0816,1.3086,570.52,802.77)">/</span><span style="transform:matrix(0.9246,0,0.0000,1.0000,598.15,810.46)">PDMS</span><span class="ns" style="transform:matrix(1.3381,0,-0.0796,1.3086,786.29,802.77)">/</span><span style="transform:matrix(1.0595,0,0.0000,1.0000,808.69,810.46)">Triton-20</span></div>
<div class="lg"><span style="transform:matrix(0.8991,0,0.0000,1.0000,468.49,881.46)">LIG</span><span class="ns" style="transform:matrix(1.3381,0,-0.0816,1.3086,570.52,873.77)">/</span><span style="transform:matrix(0.9246,0,0.0000,1.0000,598.15,881.46)">PDMS</span><span class="ns" style="transform:matrix(1.3381,0,-0.0796,1.3086,786.29,873.77)">/</span><span style="transform:matrix(1.0595,0,0.0000,1.0000,808.69,881.46)">Triton-30</span></div>
<div class="lg"><span style="transform:matrix(0.9011,0,0.0000,1.0000,1339.68,1693.16)">LIG</span><span style="transform:matrix(1.0708,0,0.0000,1.0000,1435.64,1693.16)"> powder</span></div>
<div class="lg"><span style="transform:matrix(0.8991,0,0.0000,1.0000,1339.69,1764.86)">LIG</span><span class="ns" style="transform:matrix(1.3381,0,-0.0816,1.3086,1441.72,1757.17)">/</span><span style="transform:matrix(0.9246,0,0.0000,1.0000,1469.35,1764.86)">PDMS</span><span class="ns" style="transform:matrix(1.3381,0,-0.0796,1.3086,1657.49,1757.17)">/</span><span style="transform:matrix(1.0590,0,0.0000,1.0000,1679.89,1764.86)">Triton-5</span></div>
<div class="lg"><span style="transform:matrix(0.8991,0,0.0000,1.0000,1339.69,1833.56)">LIG</span><span class="ns" style="transform:matrix(1.3381,0,-0.0816,1.3086,1441.72,1825.87)">/</span><span style="transform:matrix(0.9246,0,0.0000,1.0000,1469.35,1833.56)">PDMS</span><span class="ns" style="transform:matrix(1.3381,0,-0.0796,1.3086,1657.49,1825.87)">/</span><span style="transform:matrix(1.0595,0,0.0000,1.0000,1679.89,1833.56)">Triton-20</span></div>
<div class="lg"><span style="transform:matrix(0.8991,0,0.0000,1.0000,1339.69,1905.36)">LIG</span><span class="ns" style="transform:matrix(1.3381,0,-0.0816,1.3086,1441.72,1897.67)">/</span><span style="transform:matrix(0.9246,0,0.0000,1.0000,1469.35,1905.36)">PDMS</span><span class="ns" style="transform:matrix(1.3381,0,-0.0796,1.3086,1657.49,1897.67)">/</span><span style="transform:matrix(1.0595,0,0.0000,1.0000,1679.89,1905.36)">Triton-30</span></div>
</body></html>
